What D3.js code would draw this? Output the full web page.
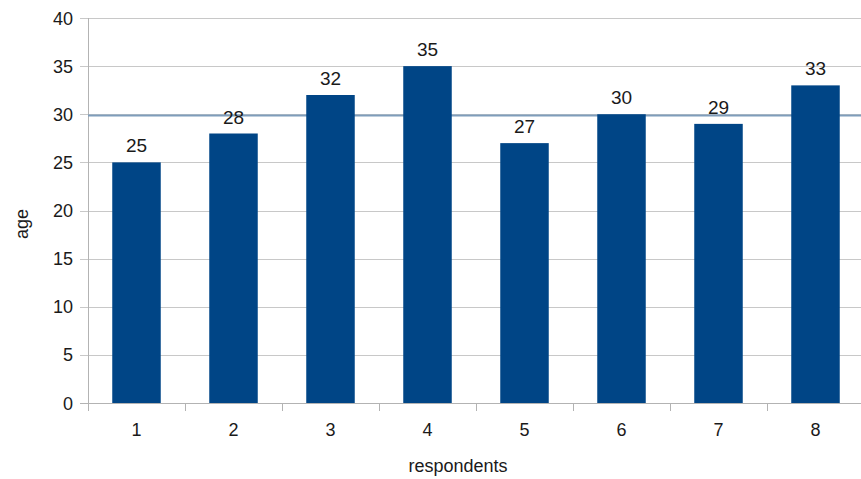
<!DOCTYPE html>
<html>
<head>
<meta charset="utf-8">
<script src="https://cdn.jsdelivr.net/npm/d3@7"></script>
<style>
  body { margin: 0; background: #fff; }
  svg { display: block; font-family: "Liberation Sans", Arial, sans-serif; }
</style>
</head>
<body>
<svg id="chart" width="861" height="479"></svg>
<script>
const respondents = ["1", "2", "3", "4", "5", "6", "7", "8"];
const ages = [25, 28, 32, 35, 27, 30, 29, 33];
const yTicks = [0, 5, 10, 15, 20, 25, 30, 35, 40];
const meanAge = d3.mean(ages);

const svg = d3.select("#chart");
const W = 861, H = 479;
const plot = { left: 88, right: 864, top: 18, bottom: 403 };

const x = d3.scaleBand().domain(respondents)
  .range([plot.left, plot.right]).paddingInner(0.5).paddingOuter(0.25);
const xb = d3.scaleBand().domain(respondents)
  .range([plot.left, plot.right]).padding(0);
const y = d3.scaleLinear().domain([0, 40]).range([plot.bottom, plot.top]);

// horizontal gridlines
svg.append("g").selectAll("line").data(yTicks).join("line")
  .attr("x1", plot.left - 8).attr("x2", plot.right)
  .attr("y1", d => Math.round(y(d)) + 0.5).attr("y2", d => Math.round(y(d)) + 0.5)
  .attr("stroke", "#c8c8c8").attr("stroke-width", 1);

// y tick labels
svg.append("g").selectAll("text").data(yTicks).join("text")
  .attr("x", 73).attr("y", d => y(d) + 6.5)
  .attr("text-anchor", "end").attr("font-size", 18).attr("fill", "#1a1a1a")
  .text(d => d);

// y axis line
svg.append("line")
  .attr("x1", plot.left + 0.5).attr("x2", plot.left + 0.5)
  .attr("y1", y(40)).attr("y2", y(0))
  .attr("stroke", "#b3b3b3");

// mean line (behind the bars)
svg.append("line")
  .attr("x1", plot.left).attr("x2", plot.right)
  .attr("y1", y(meanAge)).attr("y2", y(meanAge))
  .attr("stroke", "#7f9dbb").attr("stroke-width", 2);

// bars
svg.append("g").selectAll("rect").data(ages).join("rect")
  .attr("x", (d, i) => x(respondents[i]))
  .attr("width", x.bandwidth())
  .attr("y", d => y(d))
  .attr("height", d => y(0) - y(d))
  .attr("fill", "#004586");

// value labels
svg.append("g").selectAll("text").data(ages).join("text")
  .attr("x", (d, i) => x(respondents[i]) + x.bandwidth() / 2)
  .attr("y", d => y(d) - 10)
  .attr("text-anchor", "middle").attr("font-size", 19).attr("fill", "#1a1a1a")
  .text(d => d);

// x axis baseline and category ticks
svg.append("line")
  .attr("x1", plot.left - 8).attr("x2", plot.right)
  .attr("y1", y(0) + 0.5).attr("y2", y(0) + 0.5)
  .attr("stroke", "#b3b3b3");
const bounds = respondents.map(r => xb(r));
svg.append("g").selectAll("line").data(bounds).join("line")
  .attr("x1", d => Math.round(d) + 0.5).attr("x2", d => Math.round(d) + 0.5)
  .attr("y1", y(0)).attr("y2", y(0) + 8)
  .attr("stroke", "#b3b3b3");

// x tick labels
svg.append("g").selectAll("text").data(respondents).join("text")
  .attr("x", d => xb(d) + xb.bandwidth() / 2)
  .attr("y", 436)
  .attr("text-anchor", "middle").attr("font-size", 18).attr("fill", "#1a1a1a")
  .text(d => d);

// axis titles
svg.append("text")
  .attr("x", 458).attr("y", 472)
  .attr("text-anchor", "middle").attr("font-size", 18).attr("fill", "#1a1a1a")
  .text("respondents");
svg.append("text")
  .attr("transform", `translate(28,224) rotate(-90)`)
  .attr("text-anchor", "middle").attr("font-size", 18).attr("fill", "#1a1a1a")
  .text("age");
</script>
</body>
</html>
